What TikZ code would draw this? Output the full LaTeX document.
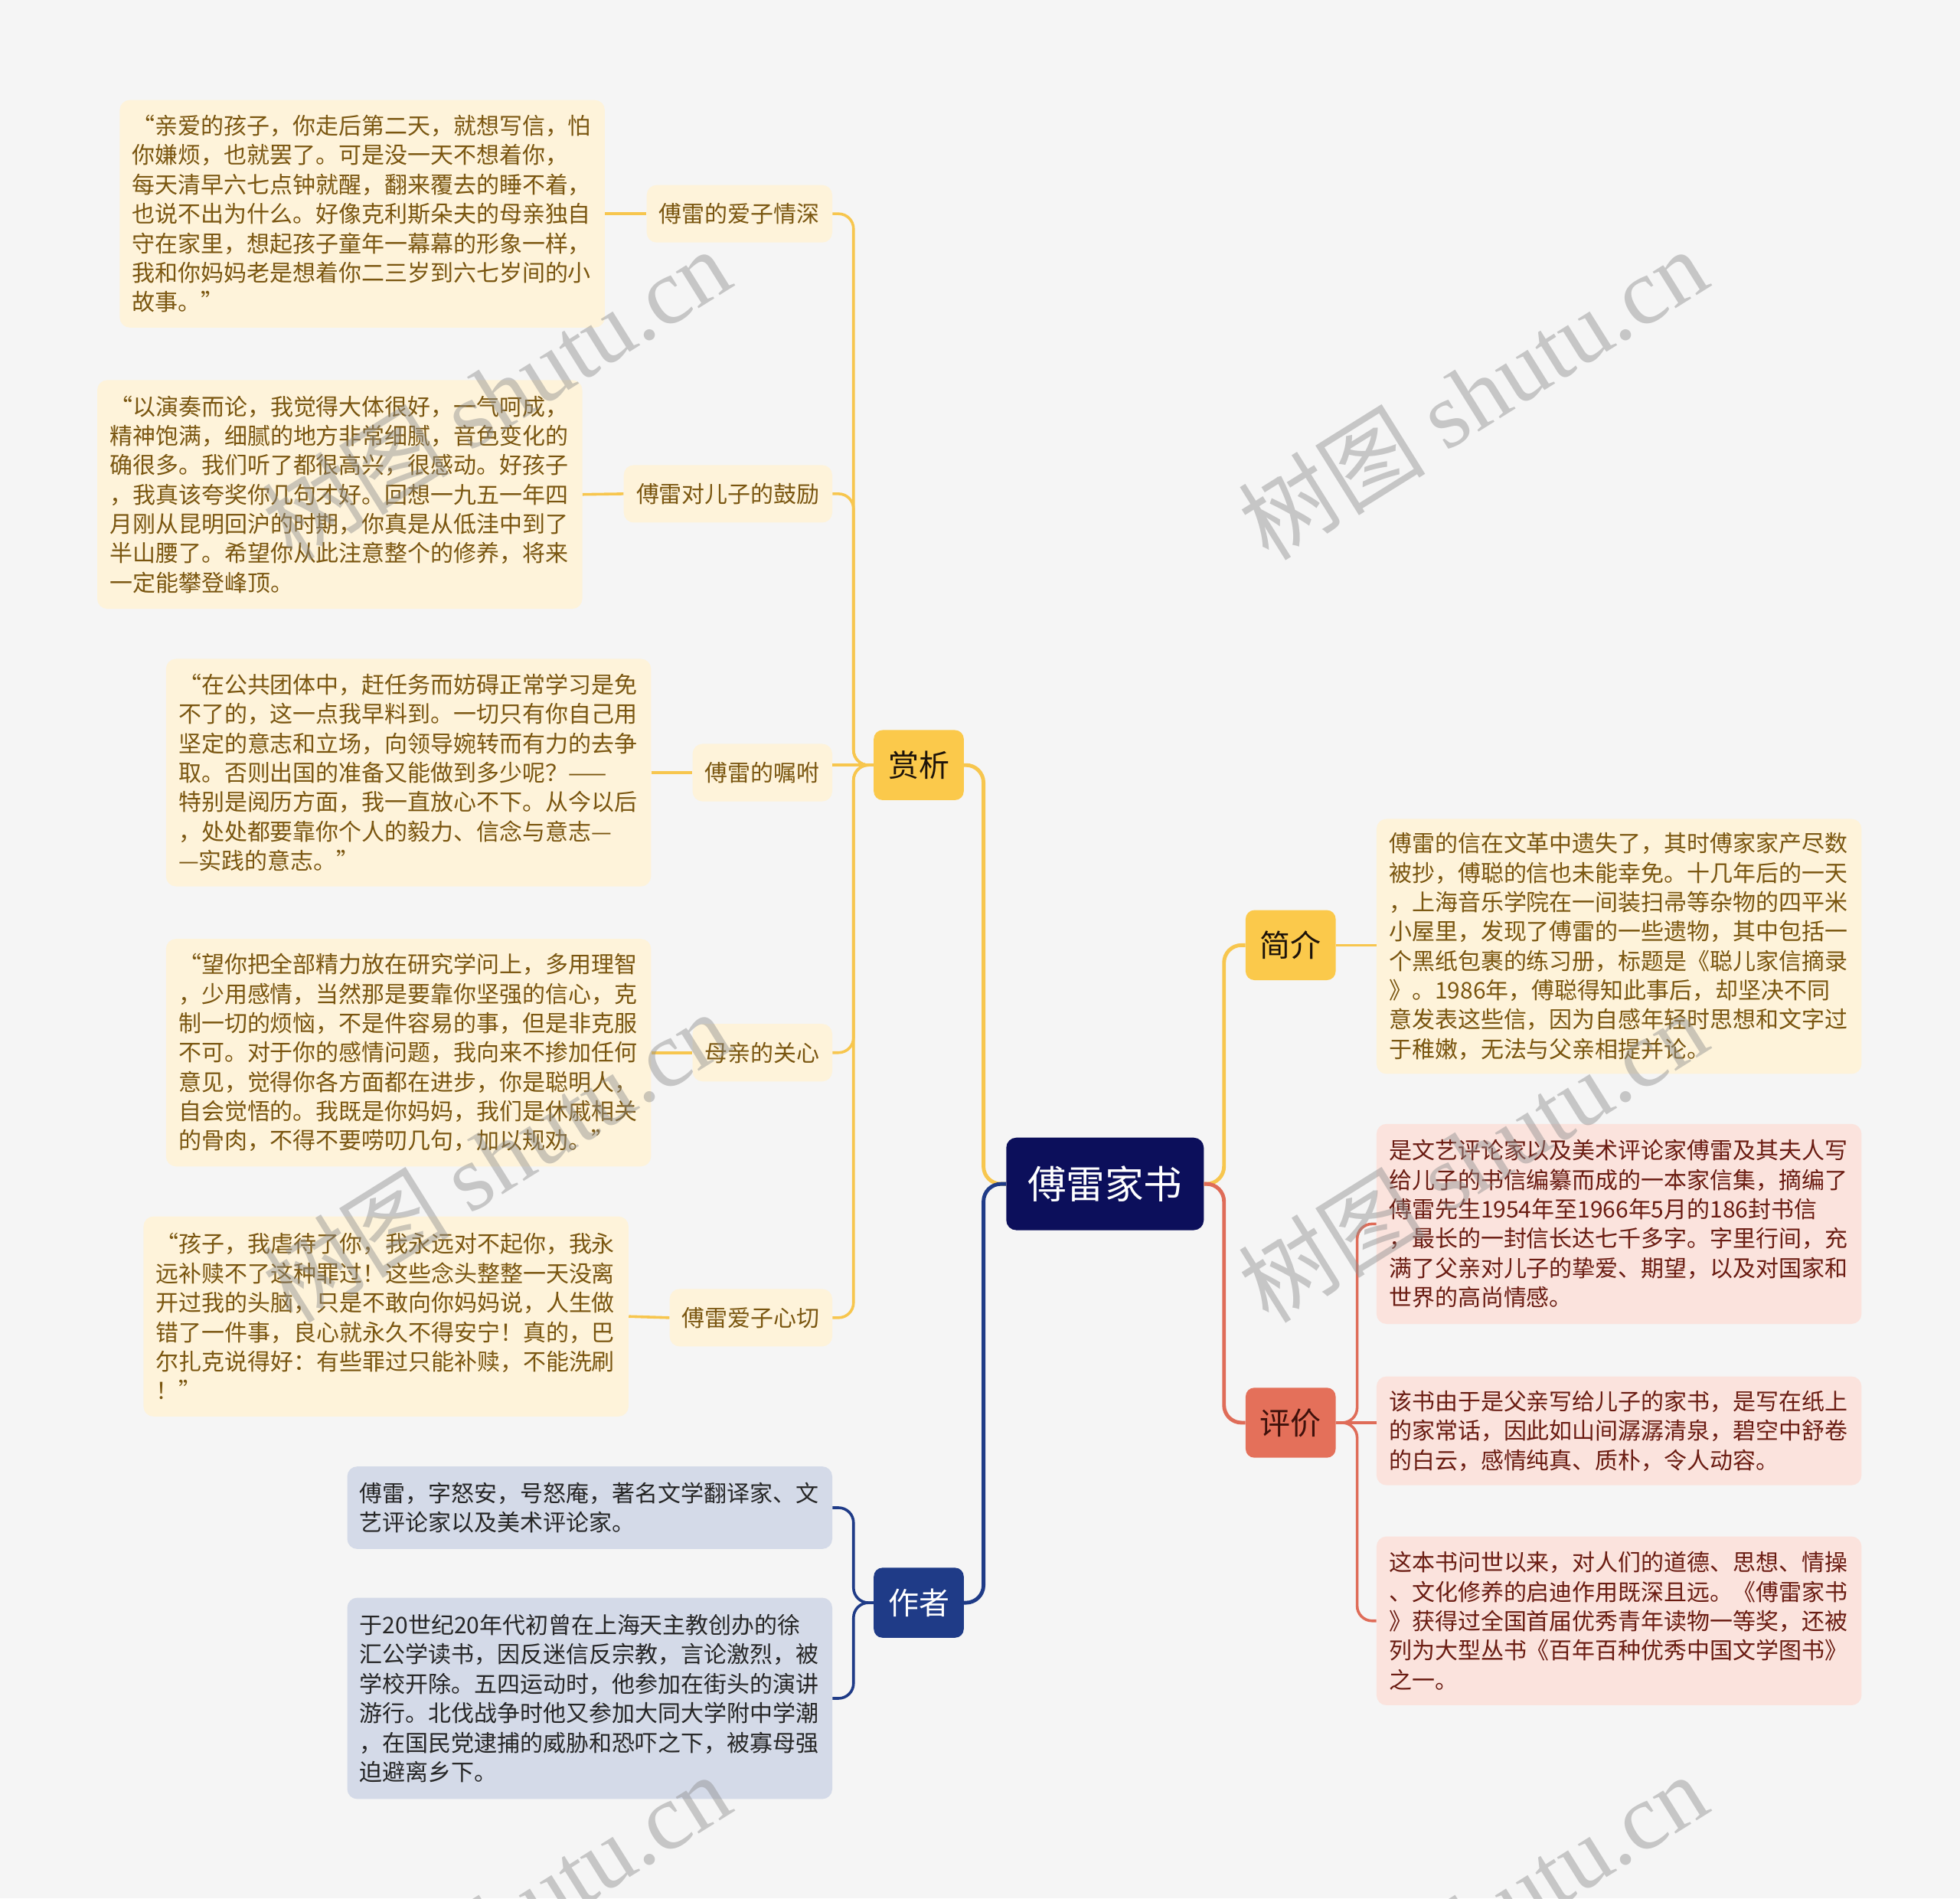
\documentclass[tikz,border=0pt]{standalone}
\usepackage{fontspec}
\setmainfont{Noto Sans CJK SC}
\newfontfamily\wmfont{Liberation Serif}

\definecolor{bgc}{HTML}{F5F5F5}
\definecolor{rootc}{HTML}{0C0F5B}
\definecolor{topy}{HTML}{FBC94B}
\definecolor{topn}{HTML}{1F3B87}
\definecolor{topr}{HTML}{E4705A}
\definecolor{creamc}{HTML}{FEF3DA}
\definecolor{browntxt}{HTML}{7A5610}
\definecolor{bluegc}{HTML}{D4DAE8}
\definecolor{bluetxt}{HTML}{262626}
\definecolor{pinkc}{HTML}{FBE3DD}
\definecolor{redtxt}{HTML}{6A1C12}
\definecolor{ylc}{HTML}{F7C64E}
\definecolor{nlc}{HTML}{1F3B87}
\definecolor{rlc}{HTML}{DF6C58}
\definecolor{wmc}{HTML}{8E8E8E}

\newcommand{\bodysize}{\fontsize{18.35}{23.5}\selectfont}

\tikzset{
  rootbox/.style={rounded corners=8, fill=rootc, text=white, inner sep=0,
    minimum width=158, minimum height=74, font=\fontsize{31}{36}\selectfont},
  topicbox/.style={rounded corners=7, inner sep=0, minimum width=72,
    minimum height=56, font=\fontsize{24.5}{28}\selectfont},
  labelbox/.style={rounded corners=8, fill=creamc, text=browntxt, inner xsep=10,
    inner ysep=0, minimum height=46, font=\bodysize},
  textbox/.style={rounded corners=8, text width=368, inner xsep=10, inner ysep=0,
    align=left, font=\bodysize},
  rootline/.style={line width=3, rounded corners=14},
  subline/.style={line width=2.2, rounded corners=12},
  wmark/.style={text=wmc, text opacity=0.45, rotate=32, inner sep=0,
    font=\fontsize{75}{80}\selectfont}
}

\begin{document}
\begin{tikzpicture}[x=1pt, y=-1pt]
  \clip (0,0) rectangle (1568,1518.4);
  \fill[bgc] (0,0) rectangle (1568,1518.4);

  \node[rootbox] (root) at (884, 947) {傅雷家书};

  \node[topicbox, fill=topy, text=black!85!brown] (sx) at (735, 612) {赏析};
  \node[topicbox, fill=topn, text=white] (zz) at (735, 1282) {作者};
  \node[topicbox, fill=topy, text=black!85!brown] (jj) at (1032.5, 756) {简介};
  \node[topicbox, fill=topr, text=redtxt!60!black] (pj) at (1032.5, 1138) {评价};

  \node[labelbox, anchor=east] (t1) at (666, 171) {傅雷的爱子情深};
  \node[labelbox, anchor=east] (t2) at (666, 395) {傅雷对儿子的鼓励};
  \node[labelbox, anchor=east] (t3) at (666, 618) {傅雷的嘱咐};
  \node[labelbox, anchor=east] (t4) at (666, 842) {母亲的关心};
  \node[labelbox, anchor=east] (t5) at (666, 1054) {傅雷爱子心切};

  \node[textbox, fill=creamc, text=browntxt, anchor=east, minimum height=182] (q1) at (484, 171)
    {“亲爱的孩子，你走后第二天，就想写信，怕\\
     你嫌烦，也就罢了。可是没一天不想着你，\\
     每天清早六七点钟就醒，翻来覆去的睡不着，\\
     也说不出为什么。好像克利斯朵夫的母亲独自\\
     守在家里，想起孩子童年一幕幕的形象一样，\\
     我和你妈妈老是想着你二三岁到六七岁间的小\\
     故事。”};
  \node[textbox, fill=creamc, text=browntxt, anchor=east, minimum height=183] (q2) at (466, 395.5)
    {“以演奏而论，我觉得大体很好，一气呵成，\\
     精神饱满，细腻的地方非常细腻，音色变化的\\
     确很多。我们听了都很高兴，很感动。好孩子\\
     ，我真该夸奖你几句才好。回想一九五一年四\\
     月刚从昆明回沪的时期，你真是从低洼中到了\\
     半山腰了。希望你从此注意整个的修养，将来\\
     一定能攀登峰顶。};
  \node[textbox, fill=creamc, text=browntxt, anchor=east, minimum height=182] (q3) at (521, 618)
    {“在公共团体中，赶任务而妨碍正常学习是免\\
     不了的，这一点我早料到。一切只有你自己用\\
     坚定的意志和立场，向领导婉转而有力的去争\\
     取。否则出国的准备又能做到多少呢？——\\
     特别是阅历方面，我一直放心不下。从今以后\\
     ，处处都要靠你个人的毅力、信念与意志—\\
     —实践的意志。”};
  \node[textbox, fill=creamc, text=browntxt, anchor=east, minimum height=182] (q4) at (521, 842)
    {“望你把全部精力放在研究学问上，多用理智\\
     ，少用感情，当然那是要靠你坚强的信心，克\\
     制一切的烦恼，不是件容易的事，但是非克服\\
     不可。对于你的感情问题，我向来不掺加任何\\
     意见，觉得你各方面都在进步，你是聪明人，\\
     自会觉悟的。我既是你妈妈，我们是休戚相关\\
     的骨肉，不得不要唠叨几句，加以规劝。”};
  \node[textbox, fill=creamc, text=browntxt, anchor=east, minimum height=160] (q5) at (503, 1053)
    {“孩子，我虐待了你，我永远对不起你，我永\\
     远补赎不了这种罪过！这些念头整整一天没离\\
     开过我的头脑，只是不敢向你妈妈说，人生做\\
     错了一件事，良心就永久不得安宁！真的，巴\\
     尔扎克说得好：有些罪过只能补赎，不能洗刷\\
     ！”};

  \node[textbox, fill=bluegc, text=bluetxt, anchor=east, minimum height=66] (a1) at (666, 1206)
    {傅雷，字怒安，号怒庵，著名文学翻译家、文\\
     艺评论家以及美术评论家。};
  \node[textbox, fill=bluegc, text=bluetxt, anchor=east, minimum height=161] (a2) at (666, 1358.5)
    {于20世纪20年代初曾在上海天主教创办的徐\\
     汇公学读书，因反迷信反宗教，言论激烈，被\\
     学校开除。五四运动时，他参加在街头的演讲\\
     游行。北伐战争时他又参加大同大学附中学潮\\
     ，在国民党逮捕的威胁和恐吓之下，被寡母强\\
     迫避离乡下。};

  \node[textbox, fill=creamc, text=browntxt, anchor=west, minimum height=204] (jt) at (1101, 757)
    {傅雷的信在文革中遗失了，其时傅家家产尽数\\
     被抄，傅聪的信也未能幸免。十几年后的一天\\
     ，上海音乐学院在一间装扫帚等杂物的四平米\\
     小屋里，发现了傅雷的一些遗物，其中包括一\\
     个黑纸包裹的练习册，标题是《聪儿家信摘录\\
     》。1986年，傅聪得知此事后，却坚决不同\\
     意发表这些信，因为自感年轻时思想和文字过\\
     于稚嫩，无法与父亲相提并论。};

  \node[textbox, fill=pinkc, text=redtxt, anchor=west, minimum height=160] (b1) at (1101, 979)
    {是文艺评论家以及美术评论家傅雷及其夫人写\\
     给儿子的书信编纂而成的一本家信集，摘编了\\
     傅雷先生1954年至1966年5月的186封书信\\
     ，最长的一封信长达七千多字。字里行间，充\\
     满了父亲对儿子的挚爱、期望，以及对国家和\\
     世界的高尚情感。};
  \node[textbox, fill=pinkc, text=redtxt, anchor=west, minimum height=87] (b2) at (1101, 1144.5)
    {该书由于是父亲写给儿子的家书，是写在纸上\\
     的家常话，因此如山间潺潺清泉，碧空中舒卷\\
     的白云，感情纯真、质朴，令人动容。};
  \node[textbox, fill=pinkc, text=redtxt, anchor=west, minimum height=135] (b3) at (1101, 1296.5)
    {这本书问世以来，对人们的道德、思想、情操\\
     、文化修养的启迪作用既深且远。《傅雷家书\\
     》获得过全国首届优秀青年读物一等奖，还被\\
     列为大型丛书《百年百种优秀中国文学图书》\\
     之一。};

  \draw[rootline, ylc] (root.west) -- ++(-18,0) |- (sx.east);
  \draw[rootline, nlc] (root.west) -- ++(-18,0) |- (zz.east);
  \draw[rootline, ylc] (root.east) -- ++(16,0) |- (jj.west);
  \draw[rootline, rlc] (root.east) -- ++(16,0) |- (pj.west);

  \draw[subline, ylc] (sx.west) -- ++(-16,0) |- (t1.east);
  \draw[subline, ylc] (sx.west) -- ++(-16,0) |- (t2.east);
  \draw[subline, ylc] (sx.west) -- (t3.east |- sx.west);
  \draw[subline, ylc] (sx.west) -- ++(-16,0) |- (t4.east);
  \draw[subline, ylc] (sx.west) -- ++(-16,0) |- (t5.east);

  \draw[subline, ylc] (q1.east) -- (t1.west);
  \draw[subline, ylc] (q2.east) -- (t2.west);
  \draw[subline, ylc] (q3.east) -- (t3.west);
  \draw[subline, ylc] (q4.east) -- (t4.west);
  \draw[subline, ylc] (q5.east) -- (t5.west);

  \draw[subline, nlc] (zz.west) -- ++(-16,0) |- (a1.east);
  \draw[subline, nlc] (zz.west) -- ++(-16,0) |- (a2.east);

  \draw[subline, ylc] (jj.east) -- (jt.west |- jj.east);

  \draw[subline, rlc] (pj.east) -- ++(17,0) |- (b1.west);
  \draw[subline, rlc] (pj.east) -- (b2.west |- pj.east);
  \draw[subline, rlc] (pj.east) -- ++(17,0) |- (b3.west);

  \node[wmark] (w1) at (397, 315) {树图 {\wmfont shutu.cn}};
  \node[wmark] (w2) at (1178, 315) {树图 {\wmfont shutu.cn}};
  \node[wmark] (w3) at (397, 925) {树图 {\wmfont shutu.cn}};
  \node[wmark] (w4) at (1178, 925) {树图 {\wmfont shutu.cn}};
  \node[wmark] (w5) at (397, 1535) {树图 {\wmfont shutu.cn}};
  \node[wmark] (w6) at (1178, 1535) {树图 {\wmfont shutu.cn}};
\end{tikzpicture}
\end{document}
